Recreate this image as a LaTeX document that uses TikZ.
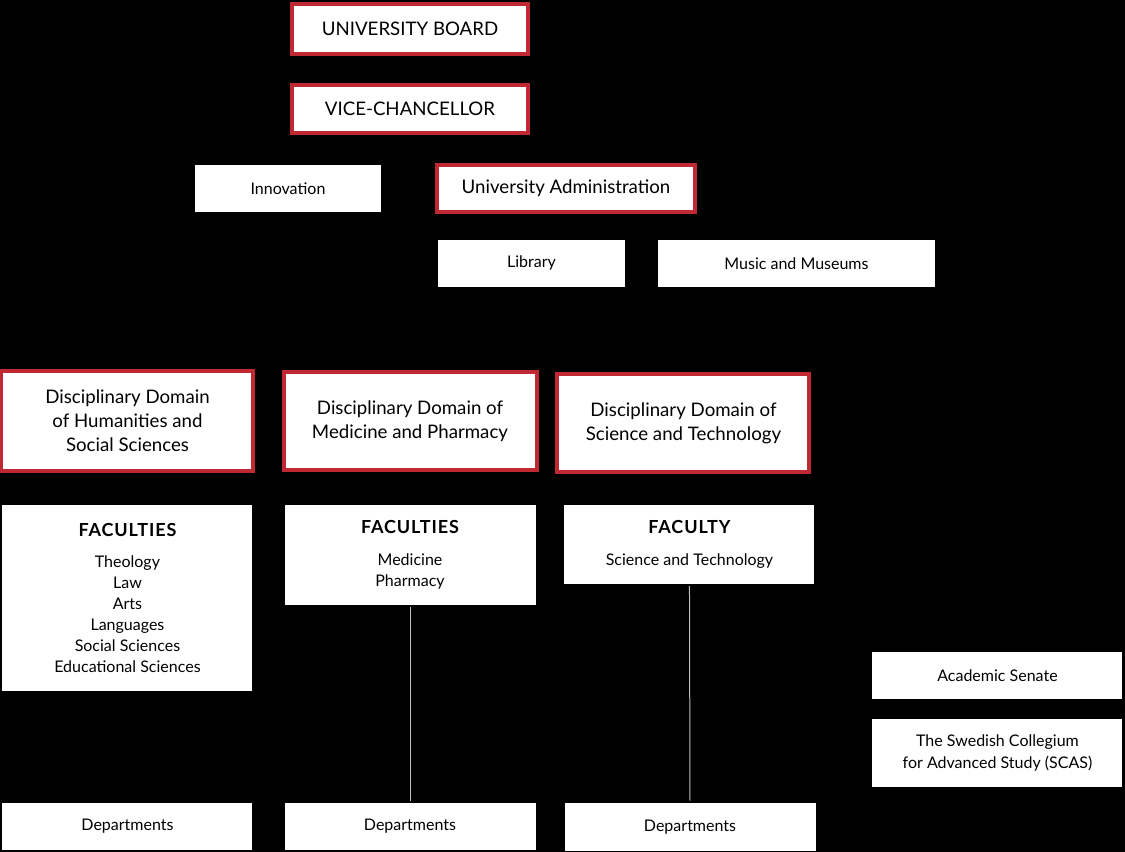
\documentclass[tikz,border=0pt]{standalone}
\usepackage{fontspec}
\setmainfont{Lato}
\usepackage{xcolor}
\usepackage{tikz}
\usetikzlibrary{calc, positioning}
\definecolor{uured}{RGB}{192, 40, 52}
\definecolor{linegray}{RGB}{190, 190, 190}
\tikzset{
    redbox/.style = {draw=uured, line width=3pt, fill=white, rectangle, inner sep=0pt,
      node distance=0em, align=center},
    whitebox/.style = {draw=none, fill=white, rectangle, inner sep=0pt,
      node distance=0em, align=center, font=\fontsize{12}{16.5}\selectfont},
    bigtext/.style = {font=\fontsize{14}{18}\selectfont},
    domaintext/.style = {font=\fontsize{14}{18}\selectfont},
    listtext/.style = {font=\fontsize{12}{15.75}\selectfont},
    linkline/.style = {draw=linegray, line width=0.75pt, shorten <=1.5pt, shorten >=1.5pt}
}
\newcommand{\facultyhead}[1]{{\fontsize{13.5}{15}\selectfont\bfseries\addfontfeature{LetterSpace=5}#1}}

\begin{document}
\begin{tikzpicture}
    \fill[black] (0pt,0pt) rectangle (843.75pt,-639pt);
    \useasboundingbox (0pt,0pt) rectangle (843.75pt,-639pt);

    % top of the tree
    \node[redbox, bigtext, name=Board, minimum width=177pt, minimum height=37.5pt] at (307.5pt,-21.75pt) {UNIVERSITY BOARD};
    \node[redbox, bigtext, name=VC, below of=Board, yshift=-60pt, minimum width=177pt, minimum height=36pt] {VICE-CHANCELLOR};
    \node[redbox, bigtext, name=Admin, below of=VC, xshift=117pt, yshift=-59.6pt, minimum width=193.5pt, minimum height=35.25pt] {University Administration};
    \node[whitebox, name=Innov, left of=Admin, xshift=-208.5pt, minimum width=139.5pt, minimum height=35.25pt] {Innovation};
    \node[whitebox, name=Library, below of=Admin, xshift=-25.9pt, yshift=-56.25pt, minimum width=140.25pt, minimum height=35.25pt] {Library};
    \node[whitebox, name=Museums, right of=Library, xshift=198.75pt, minimum width=207.75pt, minimum height=35.25pt] {Music and Museums};

    % disciplinary domains
    \node[redbox, domaintext, name=DomMed, below of=VC, yshift=-234pt, minimum width=189.75pt, minimum height=73.5pt] {Disciplinary Domain of\\Medicine and Pharmacy};
    \node[redbox, domaintext, name=DomHum, left of=DomMed, xshift=-211.9pt, minimum width=189pt, minimum height=75pt] {Disciplinary Domain\\of Humanities and\\Social Sciences};
    \node[redbox, domaintext, name=DomSci, right of=DomMed, xshift=205.1pt, yshift=-1.5pt, minimum width=189pt, minimum height=73.5pt] {Disciplinary Domain of\\Science and Technology};

    % faculties
    \node[whitebox, listtext, name=FacHum, below of=DomHum, yshift=-132.75pt, minimum width=187.5pt, minimum height=139.5pt]
      {\facultyhead{FACULTIES}\\[8pt]Theology\\Law\\Arts\\Languages\\Social Sciences\\Educational Sciences};
    \node[whitebox, listtext, name=FacMed, below of=DomMed, yshift=-100.5pt, minimum width=188.25pt, minimum height=75pt]
      {\facultyhead{FACULTIES}\\[8pt]Medicine\\Pharmacy};
    \node[whitebox, listtext, name=FacSci, below of=DomSci, xshift=4.5pt, yshift=-91.1pt, minimum width=187.5pt, minimum height=59.25pt]
      {\facultyhead{FACULTY}\\[8pt]Science and Technology};

    % departments
    \node[whitebox, name=DepHum, below of=FacHum, yshift=-171.4pt, minimum width=187.5pt, minimum height=35.25pt] {Departments};
    \node[whitebox, name=DepMed, below of=FacMed, yshift=-203.6pt, minimum width=188.25pt, minimum height=35.25pt] {Departments};
    \node[whitebox, name=DepSci, below of=FacSci, xshift=0.4pt, yshift=-211.9pt, minimum width=188.25pt, minimum height=36pt] {Departments};

    % side bodies
    \node[whitebox, name=Senate, right of=FacSci, xshift=231pt, yshift=-98.25pt, minimum width=187.5pt, minimum height=35.25pt] {Academic Senate};
    \node[whitebox, name=SCAS, below of=Senate, yshift=-58.1pt, minimum width=187.5pt, minimum height=51pt] {The Swedish Collegium\\for Advanced Study (SCAS)};

    \draw[linkline] (FacMed.south) -- (DepMed.north);
    \draw[linkline] (FacSci.south) -- (DepSci.north);
\end{tikzpicture}
\end{document}
